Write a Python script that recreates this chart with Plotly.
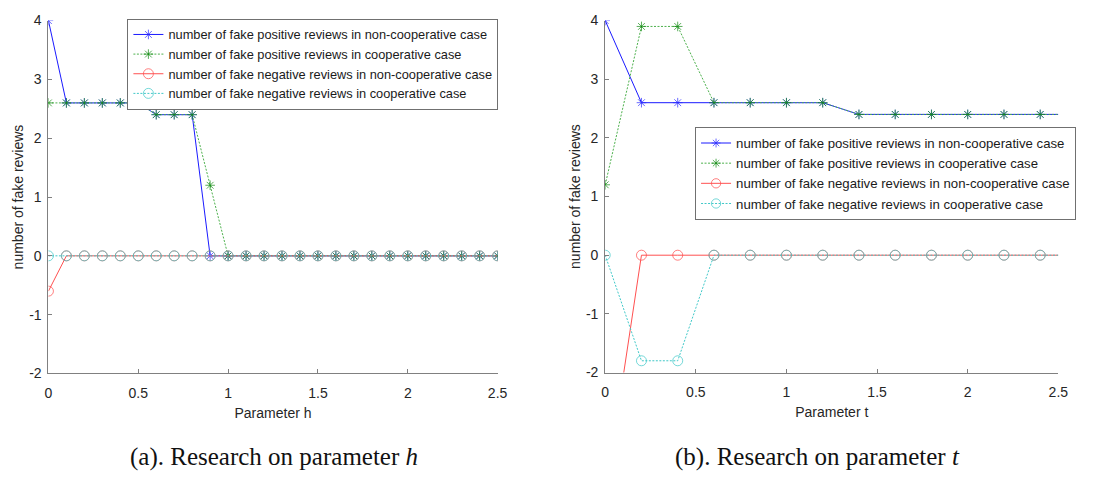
import plotly.graph_objects as go

# ---------------- data ----------------
h_vals = [round(0.1 * i, 1) for i in range(26)]
h_pos_noncoop = [4, 2.6, 2.6, 2.6, 2.6, 2.6, 2.4, 2.4, 2.4, 0, 0, 0, 0, 0, 0, 0, 0, 0, 0, 0, 0, 0, 0, 0, 0, 0]
h_pos_coop = [2.6, 2.6, 2.6, 2.6, 2.6, 2.6, 2.4, 2.4, 2.4, 1.2, 0, 0, 0, 0, 0, 0, 0, 0, 0, 0, 0, 0, 0, 0, 0, 0]
h_neg_noncoop = [-0.6, 0, 0, 0, 0, 0, 0, 0, 0, 0, 0, 0, 0, 0, 0, 0, 0, 0, 0, 0, 0, 0, 0, 0, 0, 0]
h_neg_coop = [0] * 26

t_vals = [0, 0.2, 0.4, 0.6, 0.8, 1.0, 1.2, 1.4, 1.6, 1.8, 2.0, 2.2, 2.4, 2.5]
t_pos_noncoop = [4, 2.6, 2.6, 2.6, 2.6, 2.6, 2.6, 2.4, 2.4, 2.4, 2.4, 2.4, 2.4, 2.4]
t_pos_coop = [1.2, 3.9, 3.9, 2.6, 2.6, 2.6, 2.6, 2.4, 2.4, 2.4, 2.4, 2.4, 2.4, 2.4]
t_neg_noncoop = [-4.1, 0, 0, 0, 0, 0, 0, 0, 0, 0, 0, 0, 0, 0]
t_neg_coop = [0, -1.8, -1.8, 0, 0, 0, 0, 0, 0, 0, 0, 0, 0, 0]

names = [
    "number of fake positive reviews in non-cooperative case",
    "number of fake positive reviews in cooperative case",
    "number of fake negative reviews in non-cooperative case",
    "number of fake negative reviews in cooperative case",
]
y_ticks = [-2, -1, 0, 1, 2, 3, 4]
y_tick_text = ["-2", "-1", "0", "1", "2", "3", "4"]
x_ticks = [0, 0.5, 1, 1.5, 2, 2.5]
x_tick_text = ["0", "0.5", "1", "1.5", "2", "2.5"]

# ---------------- styles ----------------
styles = [
    dict(color="#1a1aff", dash="solid", symbol="asterisk-open", size=8, mcolor="#2a2aff"),
    dict(color="#4cb04c", dash="2px,1.5px", symbol="asterisk-open", size=8, mcolor="#138a13"),
    dict(color="#ff5050", dash="solid", symbol="circle-open", size=10, mcolor="#ff4a4a"),
    dict(color="#40c8c8", dash="2px,1.5px", symbol="circle-open", size=10, mcolor="#3cc8c8"),
]

W, H = 1095, 483
fig = go.Figure()

def add_series(xs, ys_list, xa, ya, legend, hide_last):
    for i, (ys, st) in enumerate(zip(ys_list, styles)):
        sizes = [st["size"]] * len(xs)
        if hide_last:
            sizes[-1] = 0
        fig.add_trace(go.Scatter(
            x=xs, y=ys, name=names[i], mode="lines+markers",
            xaxis=xa, yaxis=ya, legend=legend,
            line=dict(color=st["color"], width=1, dash=st["dash"]),
            marker=dict(symbol=st["symbol"], size=sizes, color=st["mcolor"],
                        line=dict(color=st["mcolor"], width=1)),
        ))

add_series(h_vals, [h_pos_noncoop, h_pos_coop, h_neg_noncoop, h_neg_coop], "x", "y", "legend", False)
add_series(t_vals, [t_pos_noncoop, t_pos_coop, t_neg_noncoop, t_neg_coop], "x2", "y2", "legend2", True)

def px_x(p):
    return p / W

def px_y(p):
    return 1 - p / H

font_fam = "Liberation Sans, Arial"
axis_common = dict(
    showgrid=False, zeroline=False, showline=True, linecolor="#808080", linewidth=1,
    ticks="inside", ticklen=4, tickcolor="#808080", tickwidth=1,
    tickfont=dict(family=font_fam, size=14, color="#262626"),
    mirror=False,
)
title_font = dict(family=font_fam, size=14, color="#262626")

fig.update_layout(
    width=W, height=H, margin=dict(l=0, r=0, t=0, b=0),
    paper_bgcolor="white", plot_bgcolor="white",
    showlegend=True,
    xaxis=dict(domain=[px_x(45), px_x(500)], range=[0, 2.5], anchor="y",
               tickvals=x_ticks, ticktext=x_tick_text, ticklabelstandoff=7,
               title=dict(text="Parameter h", font=title_font, standoff=7), **axis_common),
    yaxis=dict(domain=[px_y(378), px_y(13)], range=[-2, 4], anchor="x",
               tickvals=y_ticks, ticktext=y_tick_text, ticklabelstandoff=3,
               title=dict(text="number of fake reviews", font=title_font, standoff=2), **axis_common),
    xaxis2=dict(domain=[px_x(609), px_x(1068)], range=[0, 2.5], anchor="y2",
                tickvals=x_ticks, ticktext=x_tick_text, ticklabelstandoff=7,
                title=dict(text="Parameter t", font=title_font, standoff=7), **axis_common),
    yaxis2=dict(domain=[px_y(377), px_y(13)], range=[-2, 4], anchor="x2",
                tickvals=y_ticks, ticktext=y_tick_text, ticklabelstandoff=3,
                title=dict(text="number of fake reviews", font=title_font, standoff=2), **axis_common),
    legend=dict(x=px_x(125), y=px_y(11), xanchor="left", yanchor="top",
                bgcolor="white", bordercolor="#707070", borderwidth=1,
                font=dict(family=font_fam, size=12.8, color="#1a1a1a"),
                tracegroupgap=0, itemwidth=30),
    legend2=dict(x=px_x(700), y=px_y(123), xanchor="left", yanchor="top",
                 bgcolor="white", bordercolor="#707070", borderwidth=1,
                 font=dict(family=font_fam, size=13.2, color="#1a1a1a"),
                 tracegroupgap=0, itemwidth=30),
    annotations=[
        dict(text="(a). Research on parameter <i>h</i>", x=px_x(274), y=px_y(464),
             xref="paper", yref="paper", xanchor="center", yanchor="middle", showarrow=False,
             font=dict(family="Liberation Serif, Times New Roman", size=25, color="#111111")),
        dict(text="(b). Research on parameter <i>t</i>", x=px_x(824), y=px_y(464),
             xref="paper", yref="paper", xanchor="center", yanchor="middle", showarrow=False,
             font=dict(family="Liberation Serif, Times New Roman", size=25, color="#111111")),
    ],
)

fig.write_html("out.html")
